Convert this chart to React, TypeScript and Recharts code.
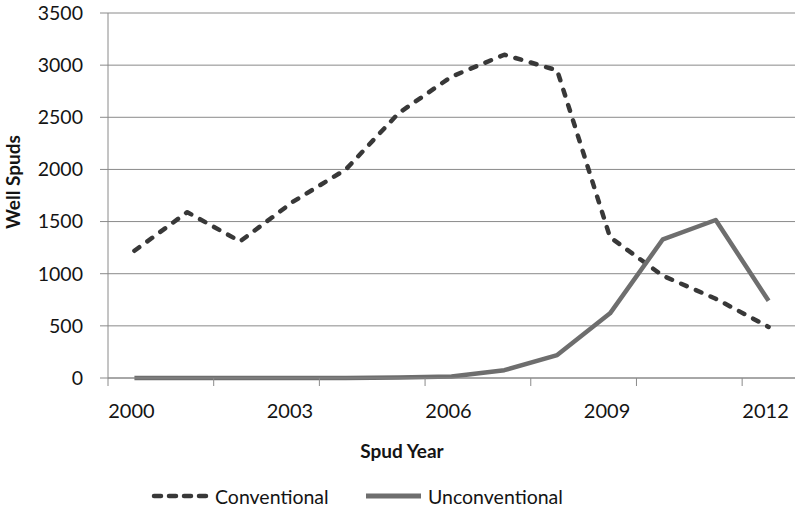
import React from 'react';
import { LineChart, Line, XAxis, YAxis, CartesianGrid } from 'recharts';

const years = [2000, 2001, 2002, 2003, 2004, 2005, 2006, 2007, 2008, 2009, 2010, 2011, 2012];
const conventional = [1220, 1590, 1310, 1690, 2000, 2540, 2890, 3100, 2950, 1350, 980, 760, 490];
const unconventional = [0, 0, 0, 0, 0, 5, 15, 75, 220, 620, 1330, 1515, 740];
const yTicks = [0, 500, 1000, 1500, 2000, 2500, 3000, 3500];
const xLabelYears = [2000, 2003, 2006, 2009, 2012];

const GRID = '#8a8a8a';
const TEXT = '#141414';
const FONT = 'Lato, "Open Sans", sans-serif';

const data = years.map((year, i) => ({
  year,
  conventional: conventional[i],
  unconventional: unconventional[i],
}));

// Excel-style category axis: tick marks sit on band edges (every 2nd), labels every 3rd year
const tickMarks = years.filter((_, i) => i % 2 === 0).map((y) => y - 0.5);
const xTicks = [...tickMarks, ...xLabelYears].sort((a, b) => a - b);

const XTick = ({ x, y, payload }: any) => {
  if (Number.isInteger(payload.value)) {
    return (
      <text x={x - 3} y={y + 40} textAnchor="middle" fill={TEXT} fontSize={20} fontFamily={FONT}>
        {payload.value}
      </text>
    );
  }
  return <line x1={x} x2={x} y1={y} y2={y + 8} stroke={GRID} strokeWidth={1} />;
};

export default function App() {
  return (
    <div style={{ position: 'absolute', left: 0, top: 0, width: 798, height: 508, background: '#fff', fontFamily: FONT, overflow: 'hidden' }}>
      <LineChart width={798} height={508} data={data} margin={{ top: 13, right: 3, left: 0, bottom: 100 }}>
        <CartesianGrid vertical={false} stroke={GRID} strokeWidth={1} />
        <XAxis
          dataKey="year"
          type="number"
          domain={[1999.5, 2012.5]}
          ticks={xTicks}
          interval={0}
          allowDecimals
          height={30}
          tickSize={0}
          tickMargin={0}
          tickLine={false}
          axisLine={{ stroke: GRID, strokeWidth: 1 }}
          tick={<XTick />}
        />
        <YAxis
          domain={[0, 3500]}
          ticks={yTicks}
          interval={0}
          width={108}
          tickSize={8}
          tickMargin={17}
          tickLine={{ stroke: GRID, strokeWidth: 1 }}
          axisLine={{ stroke: GRID, strokeWidth: 1 }}
          tick={{ fill: TEXT, fontSize: 19.5, fontFamily: FONT }}
        />
        <Line
          dataKey="conventional"
          stroke="#383838"
          strokeWidth={4.5}
          strokeDasharray="6 10"
          strokeLinecap="round"
          strokeLinejoin="round"
          dot={false}
          isAnimationActive={false}
        />
        <Line
          dataKey="unconventional"
          stroke="#6e6e6e"
          strokeWidth={4.5}
          strokeLinejoin="round"
          dot={false}
          isAnimationActive={false}
        />
      </LineChart>

      <div
        style={{
          position: 'absolute',
          left: 12,
          top: 181.5,
          transform: 'translate(-50%, -50%) rotate(-90deg)',
          fontWeight: 700,
          fontSize: 19,
          color: TEXT,
          whiteSpace: 'nowrap',
        }}
      >
        Well Spuds
      </div>
      <div
        style={{
          position: 'absolute',
          left: 402,
          top: 450,
          transform: 'translate(-50%, -50%)',
          fontWeight: 700,
          fontSize: 19,
          color: TEXT,
          whiteSpace: 'nowrap',
        }}
      >
        Spud Year
      </div>

      <svg width={798} height={24} style={{ position: 'absolute', left: 0, top: 484, overflow: 'visible' }}>
        <line x1={154} x2={206} y1={12} y2={12} stroke="#383838" strokeWidth={4.5} strokeDasharray="7 8" strokeLinecap="round" />
        <text x={215} y={12} dominantBaseline="central" fill={TEXT} fontSize={19.5} fontFamily={FONT}>
          Conventional
        </text>
        <line x1={366} x2={421} y1={12} y2={12} stroke="#6e6e6e" strokeWidth={5} />
        <text x={428} y={12} dominantBaseline="central" fill={TEXT} fontSize={19.5} fontFamily={FONT}>
          Unconventional
        </text>
      </svg>
    </div>
  );
}
